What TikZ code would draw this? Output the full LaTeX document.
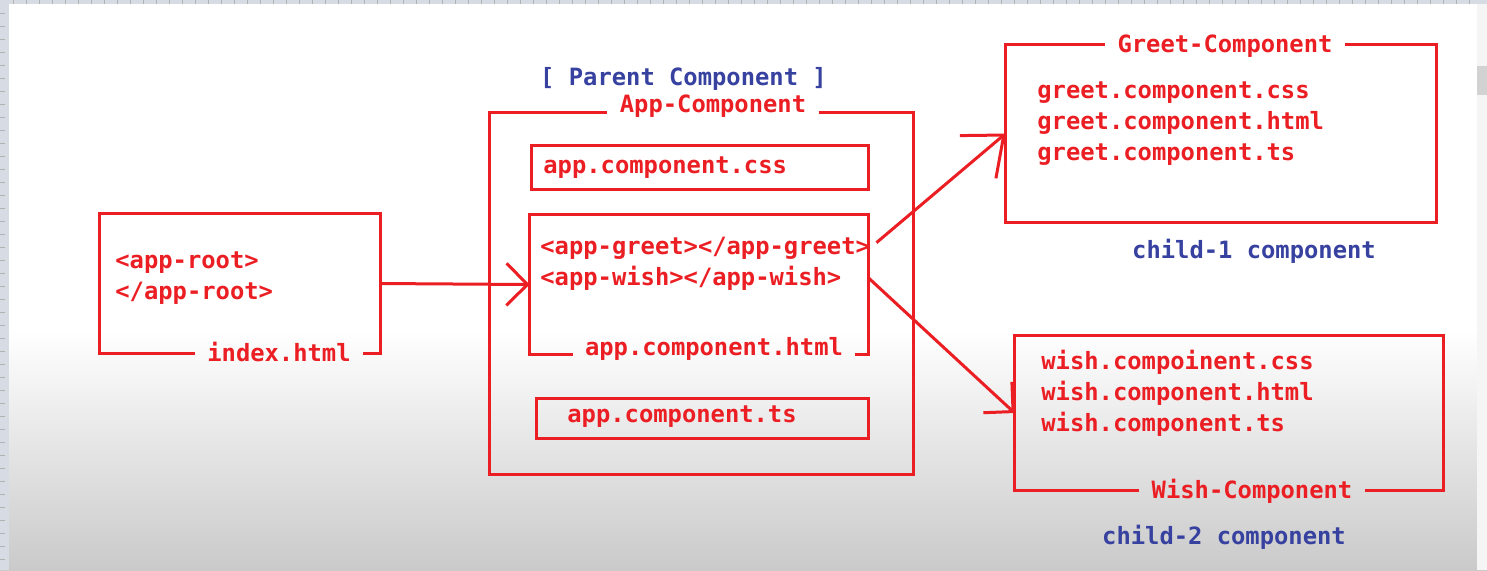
\documentclass[tikz,border=0pt]{standalone}
\usepackage{fontspec}
\setmonofont{DejaVu Sans Mono}
\usetikzlibrary{arrows.meta,positioning,fit}
\definecolor{penred}{RGB}{235,30,35}
\definecolor{penblue}{RGB}{55,65,160}
\definecolor{bggray}{RGB}{202,202,202}
\definecolor{rulergray}{RGB}{215,220,228}
\tikzset{
  >={Straight Barb[length=10.5pt,width=21pt]},
  area/.style={inner sep=0pt},
  frame/.style={draw=penred,line width=1.5pt},
  file/.style={text=penred,font=\ttfamily\bfseries\fontsize{11.9}{15.5}\selectfont,inner sep=0pt,anchor=base west,align=left},
  tag/.style={text=penred,font=\ttfamily\bfseries\fontsize{11.9}{15.5}\selectfont,inner xsep=6pt,inner ysep=0pt,anchor=base},
  note/.style={text=penblue,font=\ttfamily\bfseries\fontsize{11.9}{15.5}\selectfont,inner sep=0pt},
  link/.style={draw=penred,line width=1.5pt,->,line join=round}
}
\begin{document}
\begin{tikzpicture}[x=0.5pt,y=-0.5pt]
% screen background
\useasboundingbox (0,0) rectangle (1487,570);
\fill[white] (0,0) rectangle (1487,330);
\shade[top color=white,bottom color=bggray] (0,330) rectangle (1487,570);
\fill[rulergray] (0,0) rectangle (1487,4);
\fill[rulergray] (0,0) rectangle (9,570);
\foreach \x in {13,26,...,1480} \draw[gray!60,line width=0.3pt] (\x,0) -- (\x,4);
\foreach \y in {13,26,...,570} \draw[gray!60,line width=0.3pt] (0,\y) -- (5,\y);
\fill[gray!8] (1477,4) rectangle (1487,570);
\fill[gray!35] (1477,66) rectangle (1487,95);

% index.html
\node[area,fit={(100,214)(380,353)}] (index) {};
\node[tag] (idxtag) at (279,361) {index.html};
\node[file] (roottxt) at (115,299) {<app-root>\\</app-root>};
\draw[frame] (idxtag.west |- index.south) -| (index.north west) -| (index.south east) -- (idxtag.east |- index.south);

% parent: app component
\node[area,fit={(490,113)(913,474)}] (app) {};
\node[tag] (apptag) at (713,112) {App-Component};
\draw[frame] (apptag.east |- app.north) -| (app.south east) -| (app.north west) -- (apptag.west |- app.north);
\node[note,above=11pt of app.north,xshift=-9pt] (parent) {[ Parent Component ]};

\node[area,frame,fit={(531,145)(868,189)}] (css) {};
\node[file] (csstxt) at (543,173) {app.component.css};

\node[area,fit={(530,215)(868,354)}] (html) {};
\node[tag] (htmltag) at (714,355) {app.component.html};
\draw[frame] (htmltag.west |- html.south) -| (html.north west) -| (html.south east) -- (htmltag.east |- html.south);
\node[file] (tagg) at (540,254) {<app-greet></app-greet>};
\node[file] (tagw) at (540,285) {<app-wish></app-wish>};

\node[area,frame,fit={(536,398)(868,438)}] (ts) {};
\node[file] (tstxt) at (567,422) {app.component.ts};

% child 1
\node[area,fit={(1006,45)(1436,222)}] (greet) {};
\node[tag] (greettag) at (1225,52) {Greet-Component};
\draw[frame] (greettag.east |- greet.north) -| (greet.south east) -| (greet.north west) -- (greettag.west |- greet.north);
\node[file] (greettxt) at (1037,160) {greet.component.css\\greet.component.html\\greet.component.ts};
\node[note,below=8pt of greet.south,xshift=16.5pt] (child1) {child-1 component};

% child 2
\node[area,fit={(1015,336)(1443,490)}] (wish) {};
\node[tag] (wishtag) at (1252,498) {Wish-Component};
\draw[frame] (wishtag.west |- wish.south) -| (wish.north west) -| (wish.south east) -- (wishtag.east |- wish.south);
\node[file] (wishtxt) at (1041,431) {wish.compoinent.css\\wish.component.html\\wish.component.ts};
\node[note,below=17pt of wish.south,xshift=-2.5pt] (child2) {child-2 component};

% arrows
\draw[link] (index.east) -- (html.west);
\draw[link,-{Straight Barb[length=17pt,width=28pt]},shorten <=4pt] (tagg.east) -- (greet.west);
\draw[link] (html.east |- tagw) -- (wish.west);
\end{tikzpicture}
\end{document}
